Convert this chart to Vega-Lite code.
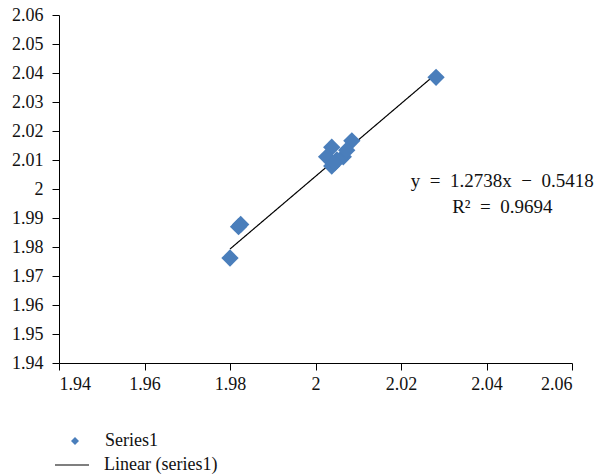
{
  "$schema": "https://vega.github.io/schema/vega-lite/v6.json",
  "autosize": {"type": "none"},
  "width": 513,
  "height": 348,
  "padding": {"left": 59, "top": 15, "right": 30, "bottom": 112},
  "background": "white",
  "config": {
    "view": {"stroke": null},
    "font": "Liberation Serif",
    "axis": {"grid": false, "domainColor": "black", "tickColor": "black", "labelColor": "#111", "labelFont": "Liberation Serif", "labelFontSize": 18, "title": null, "domainWidth": 1, "tickWidth": 1, "labelOverlap": false},
    "legend": {"labelFont": "Liberation Serif"}
  },
  "datasets": {
    "pts": [
      {"x": 1.9800, "y": 1.9762, "series": "Series1"},
      {"x": 1.9825, "y": 1.9878, "series": "Series1"},
      {"x": 1.9820, "y": 1.9870, "series": "Series1"},
      {"x": 2.0282, "y": 2.0385, "series": "Series1"},
      {"x": 2.0038, "y": 2.0144, "series": "Series1"},
      {"x": 2.0085, "y": 2.0166, "series": "Series1"},
      {"x": 2.0026, "y": 2.0111, "series": "Series1"},
      {"x": 2.0038, "y": 2.0079, "series": "Series1"},
      {"x": 2.0065, "y": 2.0111, "series": "Series1"},
      {"x": 2.0073, "y": 2.0134, "series": "Series1"},
      {"x": 2.0050, "y": 2.0100, "series": "Series1"},
      {"x": 2.0045, "y": 2.0090, "series": "Series1"}
    ],
    "fit": [
      {"x": 1.9800, "y": 1.9793, "series": "Linear (series1)"},
      {"x": 2.0282, "y": 2.0397, "series": "Linear (series1)"}
    ],
    "ann": [
      {"x": 2.0437, "y": 2.0007, "label": "y\u2002=\u20021.2738x\u2002−\u20020.5418"},
      {"x": 2.0437, "y": 1.9917, "label": "R²\u2002=\u20020.9694"}
    ]
  },
  "encoding": {
    "x": {"field": "x", "type": "quantitative", "scale": {"domain": [1.94, 2.06], "nice": false, "zero": false},
          "axis": {"values": [1.94, 1.96, 1.98, 2.0, 2.02, 2.04, 2.06], "format": ".2~f", "tickSize": 7, "labelPadding": 5, "labelFont": "Liberation Serif", "labelFontSize": 18, "labelOverlap": false}},
    "y": {"field": "y", "type": "quantitative", "scale": {"domain": [1.94, 2.06], "nice": false, "zero": false},
          "axis": {"values": [1.94, 1.95, 1.96, 1.97, 1.98, 1.99, 2.0, 2.01, 2.02, 2.03, 2.04, 2.05, 2.06], "format": ".2~f", "tickSize": 7, "labelPadding": 9, "labelFont": "Liberation Serif", "labelFontSize": 18, "labelOverlap": false}}
  },
  "layer": [
    {
      "data": {"name": "fit"},
      "mark": {"type": "line", "color": "black", "strokeWidth": 1.2},
      "encoding": {
        "strokeDash": {"field": "series", "type": "nominal",
          "scale": {"domain": ["Linear (series1)"], "range": [[1, 0]]},
          "legend": {"title": null, "orient": "none", "legendX": -5, "legendY": 432, "symbolType": "stroke", "symbolSize": 1156, "symbolStrokeColor": "black", "symbolStrokeWidth": 1.2, "labelFont": "Liberation Serif", "labelFontSize": 18, "labelColor": "#111", "labelOffset": 14}}
      }
    },
    {
      "data": {"name": "pts"},
      "mark": {"type": "point", "shape": "diamond", "filled": true, "size": 300, "opacity": 1},
      "encoding": {
        "color": {"field": "series", "type": "nominal",
          "scale": {"domain": ["Series1"], "range": ["#4a7ebb"]},
          "legend": {"title": null, "orient": "none", "legendX": 7, "legendY": 417, "symbolType": "diamond", "symbolSize": 64, "labelFont": "Liberation Serif", "labelFontSize": 18, "labelColor": "#111", "labelOffset": 21, "symbolOpacity": 1}}
      }
    },
    {
      "data": {"name": "ann"},
      "mark": {"type": "text", "font": "Liberation Serif", "fontSize": 19, "color": "#111", "align": "center", "baseline": "alphabetic"},
      "encoding": {
        "text": {"field": "label"}
      }
    }
  ]
}
